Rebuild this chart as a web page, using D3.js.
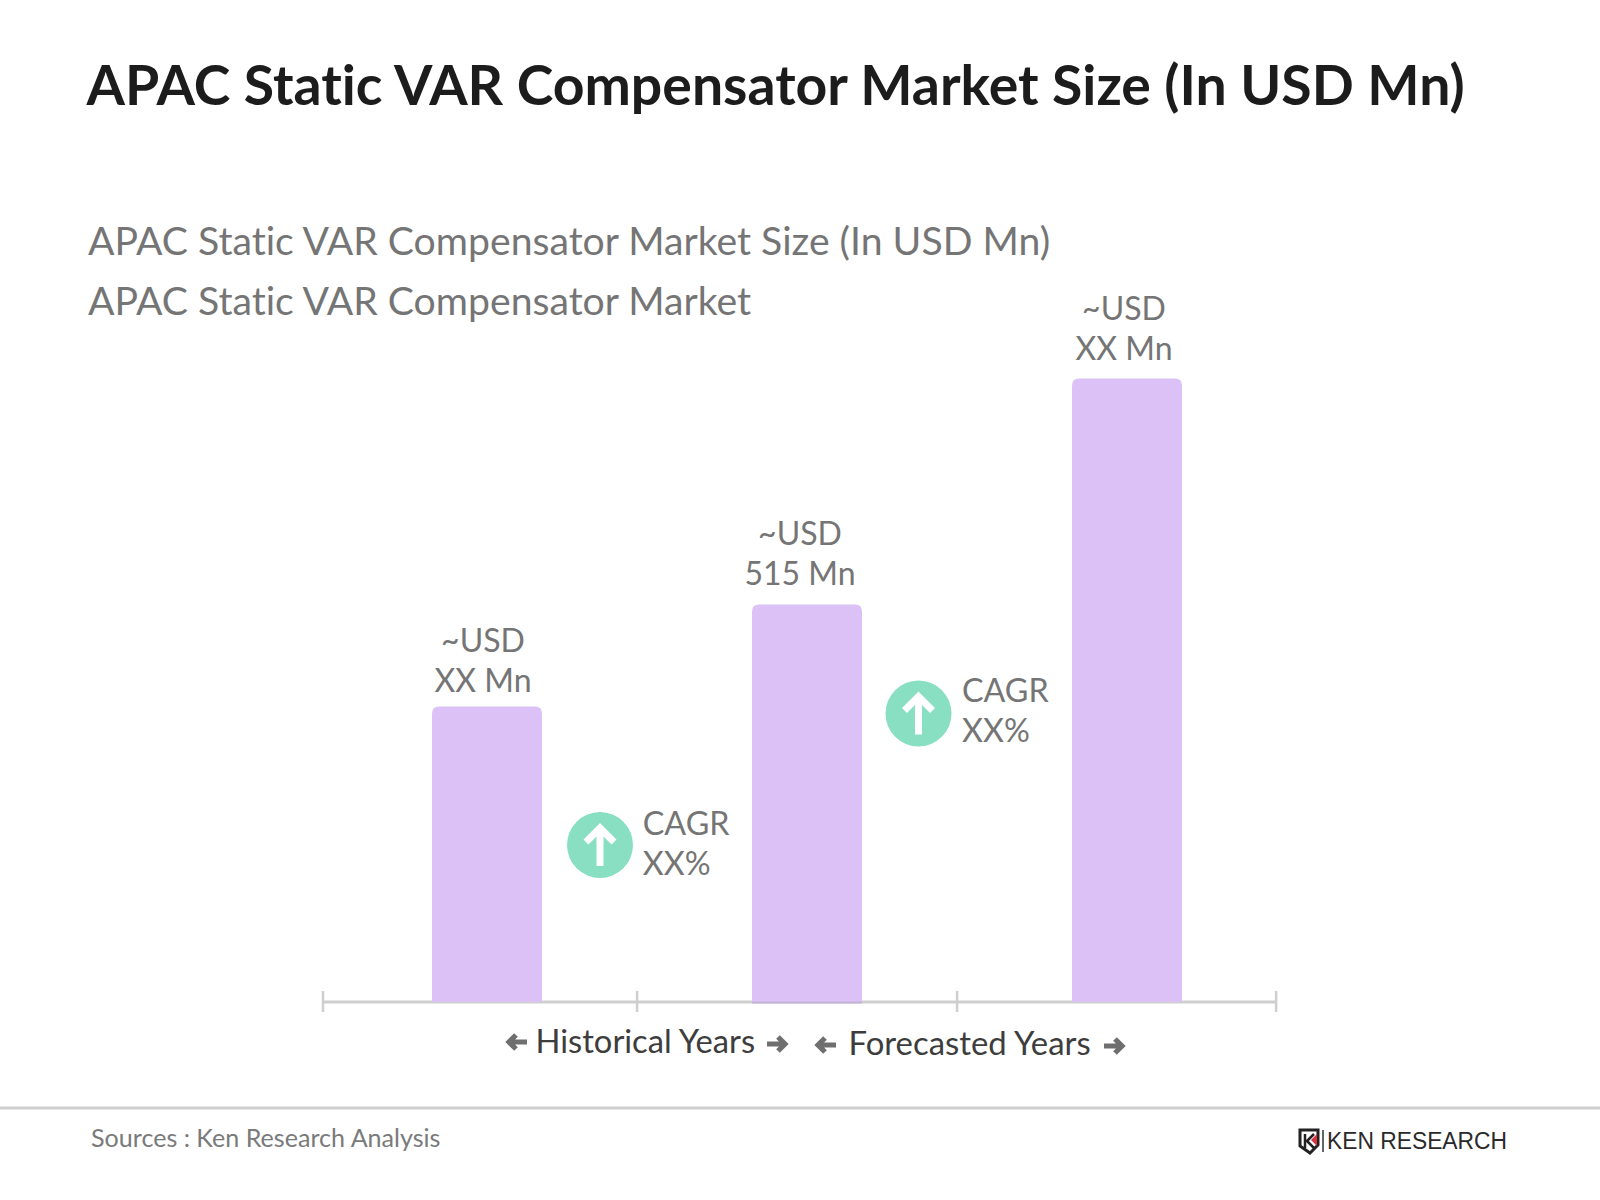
<!DOCTYPE html>
<html><head><meta charset="utf-8">
<script src="https://cdn.jsdelivr.net/npm/d3@7"></script>
<style>html,body{margin:0;padding:0;background:#fff}svg{display:block}text{font-family:Lato,sans-serif;font-variant-ligatures:none}</style>
</head><body><svg id="c" width="1600" height="1200"></svg>
<script>
const categories = ["Historical", "Base", "Forecast"];
const values = [383, 515, 808];
const valueLines = [["~USD", "XX Mn"], ["~USD", "515 Mn"], ["~USD", "XX Mn"]];
const cagrLabels = [["CAGR", "XX%"], ["CAGR", "XX%"]];
const tickPositions = [-0.5125, 0.469, 1.469, 2.466];
const titleText = "APAC Static VAR Compensator Market Size (In USD Mn)";
const subtitleLines = ["APAC Static VAR Compensator Market Size (In USD Mn)", "APAC Static VAR Compensator Market"];
const periodLabels = ["Historical Years", "Forecasted Years"];
const sourceText = "Sources : Ken Research Analysis";
const logoText = "KEN RESEARCH";

const svg = d3.select("#c");
const x = d3.scaleLinear().domain([0, 2]).range([487, 1127]);
const y = d3.scaleLinear().domain([0, 808]).range([1002, 378.5]);
const barW = 110, r = 7;
const gray = "#757575", purple = "#dcc1f7", green = "#88dfc2", lineC = "#cfcfcf";

function txt(s, px, py, size, fill, opts = {}) {
  return svg.append("text").attr("x", px).attr("y", py).attr("font-size", size)
    .attr("fill", fill).attr("font-weight", opts.weight || 400)
    .attr("text-anchor", opts.anchor || "start").text(s);
}
txt(titleText, 86.5, 105, 55.37, "#1c1c1c", {weight: 700});
subtitleLines.forEach((s, i) => txt(s, 88, 254.5 + i * 60, 39.17, gray));

// axis
svg.append("line").attr("x1", x(tickPositions[0])).attr("x2", x(tickPositions[3]))
  .attr("y1", 1002).attr("y2", 1002).attr("stroke", lineC).attr("stroke-width", 3);
svg.selectAll(".tick").data(tickPositions).join("line").attr("class", "tick")
  .attr("x1", d => x(d)).attr("x2", d => x(d)).attr("y1", 991).attr("y2", 1012)
  .attr("stroke", lineC).attr("stroke-width", 2.5);

// bars
svg.selectAll(".bar").data(values).join("path").attr("class", "bar")
  .attr("fill", purple)
  .attr("d", (d, i) => {
    const l = x(i) - barW / 2, t = y(d), b = y(0);
    return `M${l},${b}V${t + r}Q${l},${t} ${l + r},${t}H${l + barW - r}Q${l + barW},${t} ${l + barW},${t + r}V${b}Z`;
  });
// axis shows faintly through the middle bar
svg.append("line").attr("x1", x(1) - barW / 2).attr("x2", x(1) + barW / 2).attr("y1", 1002.5).attr("y2", 1002.5)
  .attr("stroke", "#c4b3d8").attr("stroke-width", 2);

// value labels
const labelDx = [-4, -7, -3];
const labelDy = [-54.5, -60, -59];
valueLines.forEach((ls, i) => ls.forEach((s, j) =>
  txt(s, x(i) + labelDx[i], y(values[i]) + labelDy[i] + j * 40.3, 32, gray, {anchor: "middle"})));

// CAGR badges
const badges = [[600, 845], [918.5, 713.5]];
const badgeDy = [-10, -12];
const badgeDx = [42.8, 43.5];
badges.forEach(([cx, cy], i) => {
  svg.append("circle").attr("cx", cx).attr("cy", cy).attr("r", 33).attr("fill", green);
  svg.append("path").attr("d", `M${cx},${cy + 21}V${cy - 15}M${cx - 14},${cy - 3}L${cx},${cy - 17}L${cx + 14},${cy - 3}`)
    .attr("fill", "none").attr("stroke", "#fff").attr("stroke-width", 7);
  cagrLabels[i].forEach((s, j) => txt(s, cx + badgeDx[i], cy + badgeDy[i] + j * 40, 32.3, gray));
});

// period labels
txt(periodLabels[0], 535.5, 1053, 32.7, "#3d3d3d");
txt(periodLabels[1], 848.5, 1055, 32.9, "#3d3d3d");
function arrow(cx, cy, dir) {
  svg.append("path").attr("d", `M${cx - 10 * dir},${cy}H${cx + 8 * dir}M${cx + 1 * dir},${cy - 7}L${cx + 8 * dir},${cy}L${cx + 1 * dir},${cy + 7}`)
    .attr("fill", "none").attr("stroke", "#6f6f6f").attr("stroke-width", 5.2);
}
[[517, 1042, -1], [777, 1044, 1], [826, 1045, -1], [1114, 1046, 1]].forEach(a => arrow(...a));

// footer
svg.append("line").attr("x1", 0).attr("x2", 1600).attr("y1", 1108).attr("y2", 1108)
  .attr("stroke", lineC).attr("stroke-width", 3);
txt(sourceText, 91, 1147, 25.1, "#7a7a7a");

// logo
svg.append("path").attr("d", "M1300,1130H1318V1145L1310,1153L1300,1146Z").attr("fill", "#fff").attr("stroke", "#222").attr("stroke-width", 3);
svg.append("path").attr("d", "M1305,1134V1148M1314,1134L1307,1141L1314,1148").attr("fill", "none").attr("stroke", "#222").attr("stroke-width", 2.5);
svg.append("path").attr("d", "M1317,1134V1146L1311,1140Z").attr("fill", "#d8313f");
svg.append("line").attr("x1", 1323).attr("x2", 1323).attr("y1", 1130).attr("y2", 1152).attr("stroke", "#333").attr("stroke-width", 1.5);
svg.append("text").attr("x", 1327).attr("y", 1148.5).attr("font-size", 23).attr("fill", "#2a2a2a")
  .attr("textLength", 180).attr("lengthAdjust", "spacingAndGlyphs").style("font-family", "'Liberation Sans'").text(logoText);
</script></body></html>
